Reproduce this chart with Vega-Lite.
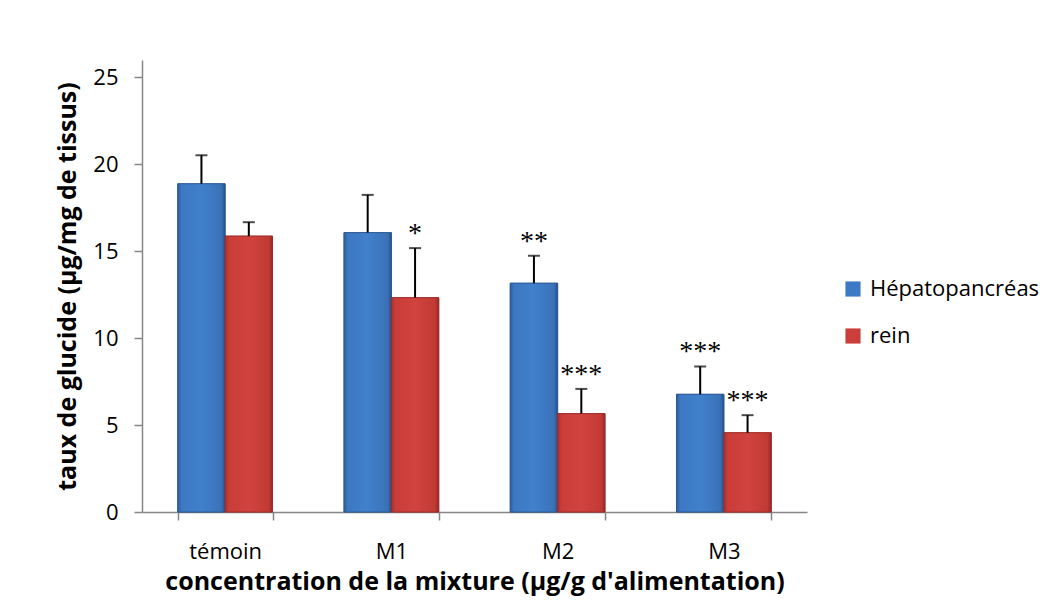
{
  "$schema": "https://vega.github.io/schema/vega-lite/v6.json",
  "autosize": {"type": "none"},
  "padding": {"left": 142, "top": 60, "right": 247, "bottom": 97},
  "width": 665,
  "height": 452,
  "background": "white",
  "data": {"values": [
    {"mixture": "témoin", "tissu": "Hépatopancréas", "valeur": 18.88, "haut": 20.52, "sig": ""},
    {"mixture": "témoin", "tissu": "rein", "valeur": 15.87, "haut": 16.67, "sig": ""},
    {"mixture": "M1", "tissu": "Hépatopancréas", "valeur": 16.07, "haut": 18.24, "sig": ""},
    {"mixture": "M1", "tissu": "rein", "valeur": 12.33, "haut": 15.18, "sig": "*"},
    {"mixture": "M2", "tissu": "Hépatopancréas", "valeur": 13.16, "haut": 14.74, "sig": "**"},
    {"mixture": "M2", "tissu": "rein", "valeur": 5.66, "haut": 7.08, "sig": "***"},
    {"mixture": "M3", "tissu": "Hépatopancréas", "valeur": 6.77, "haut": 8.37, "sig": "***"},
    {"mixture": "M3", "tissu": "rein", "valeur": 4.56, "haut": 5.57, "sig": "***"}
  ]},
  "encoding": {
    "x": {
      "field": "mixture", "type": "nominal", "sort": ["témoin", "M1", "M2", "M3"],
      "scale": {"paddingInner": 0.43, "paddingOuter": 0.215},
      "axis": {"title": "concentration de la mixture (µg/g d'alimentation)", "labelAngle": 0, "tickBand": "extent", "labelPadding": 21, "titlePadding": 7}
    },
    "xOffset": {"field": "tissu", "type": "nominal", "sort": ["Hépatopancréas", "rein"], "scale": {"paddingInner": 0, "paddingOuter": 0}}
  },
  "layer": [
    {
      "mark": {"type": "bar", "strokeWidth": 0.8},
      "encoding": {
        "y": {"field": "valeur", "type": "quantitative", "scale": {"domain": [0, 25]},
          "axis": {"title": "taux de glucide (µg/mg de tissus)", "values": [0, 5, 10, 15, 20, 25], "grid": false, "titlePadding": 12}},
        "fill": {"field": "tissu", "type": "nominal", "sort": ["Hépatopancréas", "rein"],
          "scale": {"domain": ["Hépatopancréas", "rein"], "range": ["#3D7AC6", "#CC3E39"]},
          "legend": {"title": null, "orient": "none", "legendX": 700, "legendY": 218, "symbolType": "square", "symbolSize": 230, "symbolStrokeWidth": 0, "labelFontSize": 22, "labelFont": "Open Sans", "labelColor": "#000000", "labelLimit": 0, "rowPadding": 25, "labelOffset": 6}
        },
        "stroke": {"field": "tissu", "type": "nominal", "scale": {"domain": ["Hépatopancréas", "rein"], "range": ["#2A5590", "#9A2B27"]}, "legend": null}
      }
    },
    {
      "transform": [{"filter": "datum.tissu === 'Hépatopancréas'"}],
      "mark": {"type": "bar", "stroke": "#2A5590", "strokeWidth": 0.8, "fill": {"gradient": "linear", "x1": 0, "y1": 0, "x2": 1, "y2": 0, "stops": [
              {"offset": 0, "color": "#2F5E9C"}, {"offset": 0.08, "color": "#3D78C2"}, {"offset": 0.5, "color": "#4180CC"}, {"offset": 0.92, "color": "#3A72B8"}, {"offset": 1, "color": "#27508A"}]}},
      "encoding": {"y": {"field": "valeur", "type": "quantitative"}}
    },
    {
      "transform": [{"filter": "datum.tissu === 'rein'"}],
      "mark": {"type": "bar", "stroke": "#9A2B27", "strokeWidth": 0.8, "fill": {"gradient": "linear", "x1": 0, "y1": 0, "x2": 1, "y2": 0, "stops": [
              {"offset": 0, "color": "#A8302C"}, {"offset": 0.08, "color": "#C93C37"}, {"offset": 0.5, "color": "#D1433E"}, {"offset": 0.92, "color": "#C23A35"}, {"offset": 1, "color": "#952824"}]}},
      "encoding": {"y": {"field": "valeur", "type": "quantitative"}}
    },
    {
      "mark": {"type": "rule", "color": "#000000", "strokeWidth": 2},
      "encoding": {"y": {"field": "valeur", "type": "quantitative"}, "y2": {"field": "haut"}}
    },
    {
      "mark": {"type": "tick", "color": "#000000", "thickness": 2, "size": 12, "orient": "horizontal"},
      "encoding": {"y": {"field": "haut", "type": "quantitative"}}
    },
    {
      "mark": {"type": "text", "font": "Liberation Serif", "fontSize": 28, "baseline": "alphabetic", "dy": -6, "color": "#000000"},
      "encoding": {"y": {"field": "haut", "type": "quantitative"}, "text": {"field": "sig"}}
    }
  ],
  "config": {
    "view": {"stroke": null},
    "axis": {"labelFont": "Open Sans", "labelFontSize": 22, "labelColor": "#000000", "titleFont": "Open Sans", "titleFontSize": 25, "titleFontWeight": "bold", "titleColor": "#000000", "domainColor": "#868686", "tickColor": "#868686", "tickSize": 8, "domainWidth": 1.5, "tickWidth": 1.5},
    "axisY": {"labelPadding": 16}
  }
}
